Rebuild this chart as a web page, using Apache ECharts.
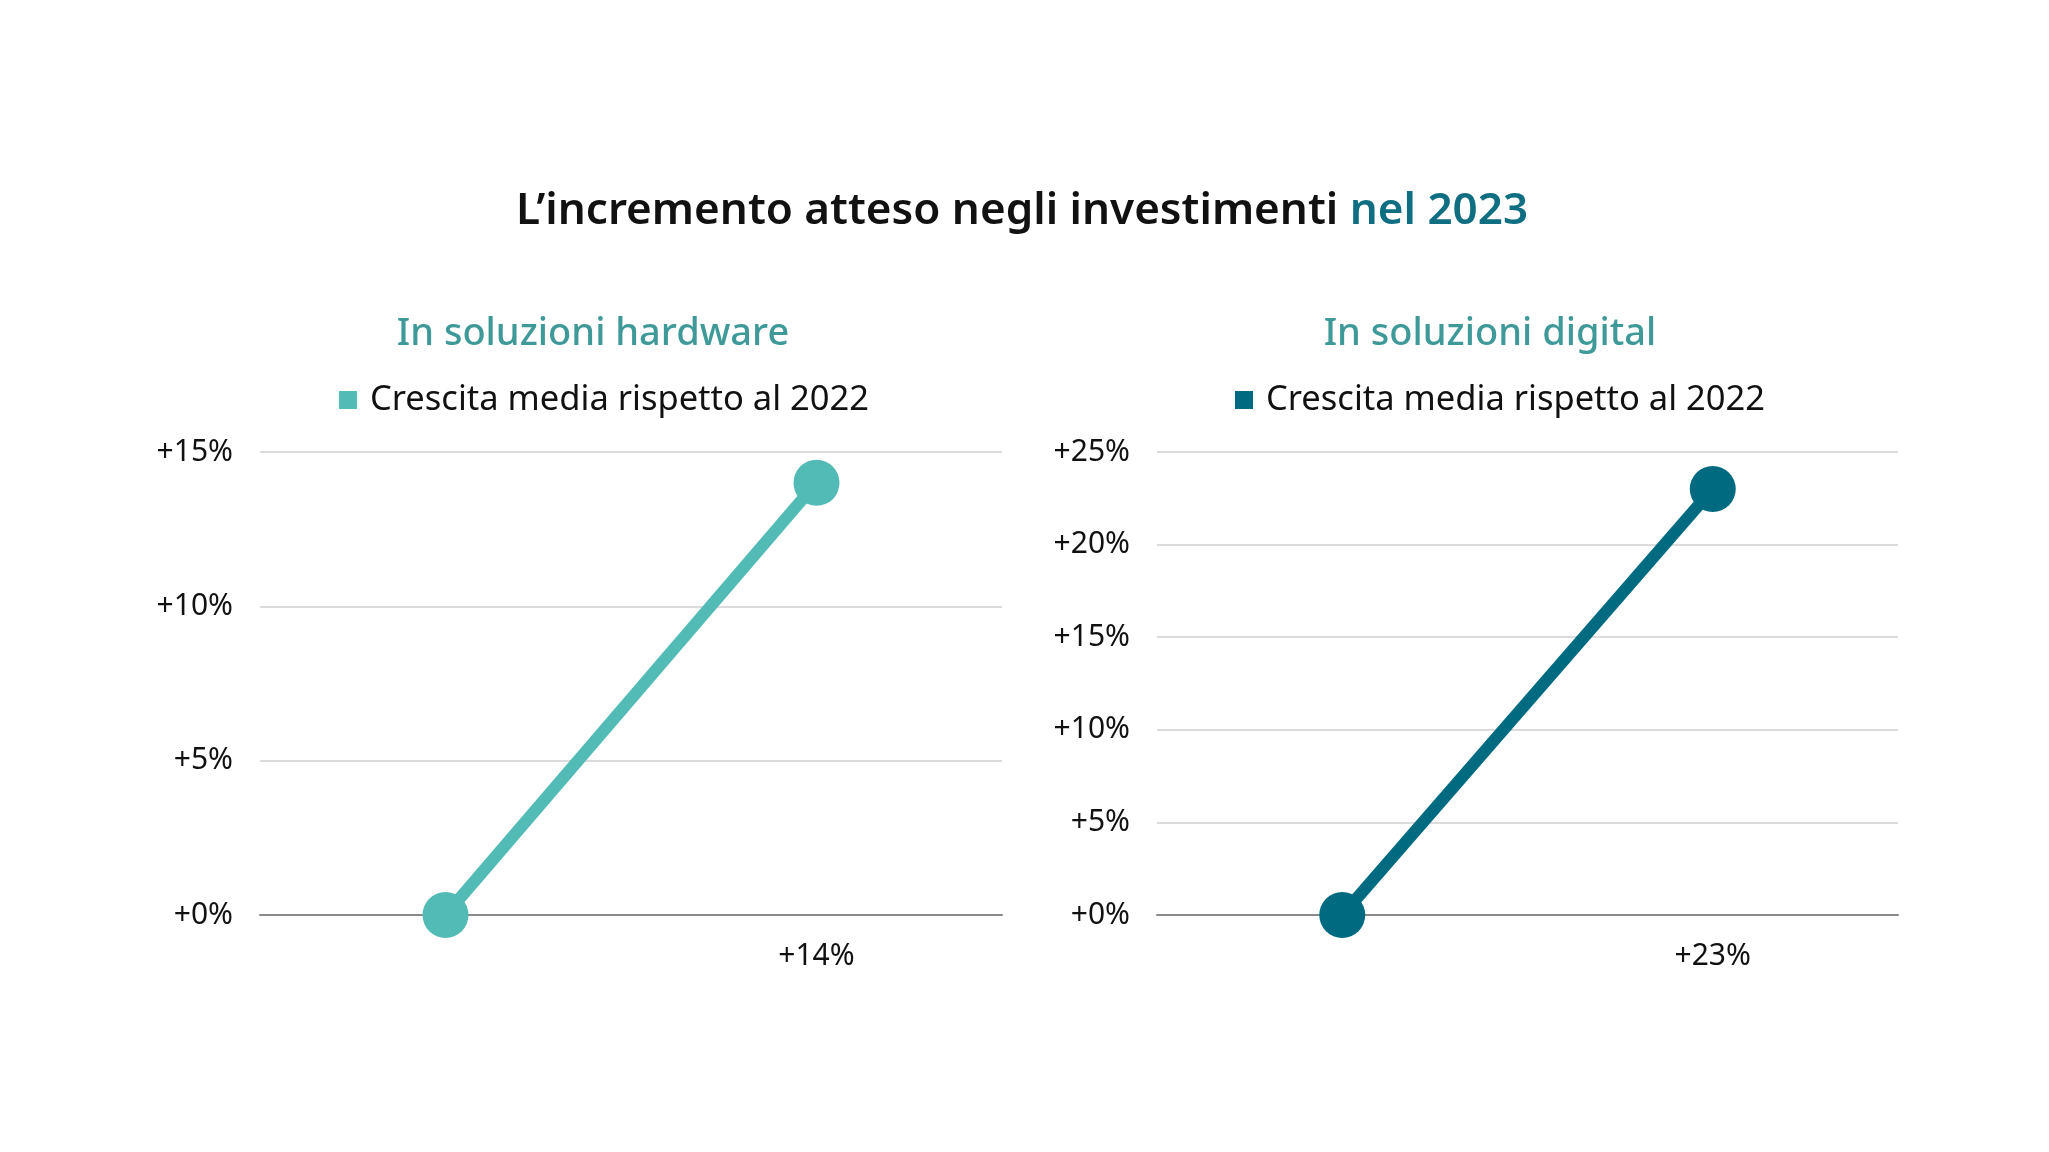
<!DOCTYPE html>
<html>
<head>
<meta charset="utf-8">
<script src="https://cdn.jsdelivr.net/npm/echarts@6/dist/echarts.min.js"></script>
<style>
html,body{margin:0;padding:0;background:#fff;}
#main{width:2049px;height:1152px;}
</style>
</head>
<body>
<div id="main"></div>
<script>
const categories = ["", "+14%"];
const categoriesDigital = ["", "+23%"];
const hardwareValues = [0, 14];
const digitalValues = [0, 23];
const seriesName = "Crescita media rispetto al 2022";
const hardwareTicksMax = 15;
const digitalTicksMax = 25;

const FONT = "Noto Sans";
const chart = echarts.init(document.getElementById('main'));
const axisLabelFmt = v => '+' + v + '%';

function yAxis(gridIndex, max) {
  return {
    type: 'value', gridIndex, min: 0, max, interval: 5,
    axisLabel: { formatter: axisLabelFmt, color: '#111', fontSize: 30, fontFamily: FONT, margin: 27, padding: [5, 0, 0, 0] },
    axisLine: { show: false }, axisTick: { show: false },
    splitLine: { lineStyle: { color: '#cfcfcf', width: 1.5 } }
  };
}
function xAxis(gridIndex, data) {
  return {
    type: 'category', gridIndex, data, boundaryGap: true,
    axisLine: { lineStyle: { color: '#8a8a8a', width: 2 } },
    axisTick: { show: false },
    axisLabel: { color: '#111', fontSize: 30, fontFamily: FONT, margin: 26 }
  };
}

chart.setOption({
  backgroundColor: '#fff',
  animation: false,
  title: [
    {
      text: "{a|L’incremento atteso negli investimenti }{b|nel 2023}",
      left: 1017, top: 181, textAlign: 'center',
      textStyle: {
        rich: {
          a: { fontSize: 44, lineHeight: 50, fontWeight: 600, color: '#111', fontFamily: FONT },
          b: { fontSize: 44, lineHeight: 50, fontWeight: 600, color: '#0f6e82', fontFamily: FONT }
        }
      }
    },
    {
      text: "In soluzioni hardware", left: 588, top: 307, textAlign: 'center',
      textStyle: { fontSize: 38, lineHeight: 44, fontWeight: 500, color: '#3f9999', fontFamily: FONT }
    },
    {
      text: "In soluzioni digital", left: 1485, top: 307, textAlign: 'center',
      textStyle: { fontSize: 38, lineHeight: 44, fontWeight: 500, color: '#3f9999', fontFamily: FONT }
    }
  ],
  legend: [
    {
      data: [{ name: seriesName + ' ' }], left: 334, top: 375,
      icon: 'rect', itemWidth: 18, itemHeight: 18, itemGap: 10,
      textStyle: { fontSize: 34.5, lineHeight: 40, color: '#111', fontFamily: FONT, padding: [0, 0, 0, 8] }
    },
    {
      data: [{ name: seriesName }], left: 1230, top: 375,
      icon: 'rect', itemWidth: 18, itemHeight: 18, itemGap: 10,
      textStyle: { fontSize: 34.5, lineHeight: 40, color: '#111', fontFamily: FONT, padding: [0, 0, 0, 8] }
    }
  ],
  grid: [
    { left: 260, width: 742, top: 452, height: 463 },
    { left: 1157, width: 741, top: 452, height: 463 }
  ],
  xAxis: [xAxis(0, categories), xAxis(1, categoriesDigital)],
  yAxis: [yAxis(0, hardwareTicksMax), yAxis(1, digitalTicksMax)],
  series: [
    {
      name: seriesName + ' ', type: 'line', xAxisIndex: 0, yAxisIndex: 0,
      data: hardwareValues, symbol: 'circle', symbolSize: 46,
      itemStyle: { color: '#52bbb5' }, lineStyle: { width: 12, color: '#52bbb5' }
    },
    {
      name: seriesName, type: 'line', xAxisIndex: 1, yAxisIndex: 1,
      data: digitalValues, symbol: 'circle', symbolSize: 46,
      itemStyle: { color: '#006a80' }, lineStyle: { width: 12, color: '#006a80' }
    }
  ]
});
</script>
</body>
</html>
